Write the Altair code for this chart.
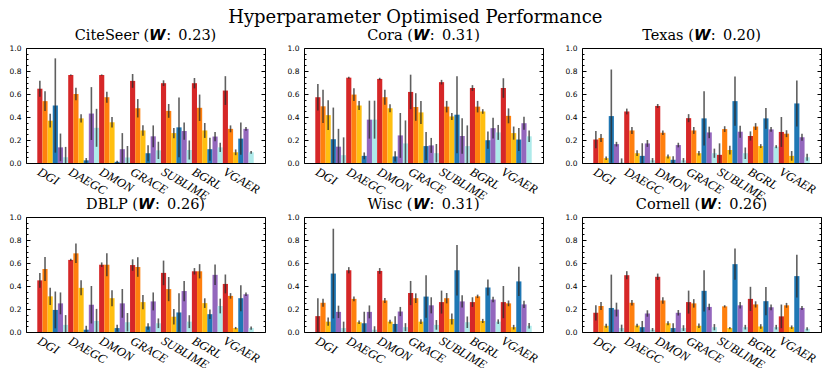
import altair as alt
import pandas as pd

algorithms = ["DGI", "DAEGC", "DMON", "GRACE", "SUBLIME", "BGRL", "VGAER"]
metrics = ["acc", "f1", "nmi", "ari", "modularity", "conductance"]
colors = ["#d62728", "#ff800e", "#ffbf10", "#1f77b4", "#9467bd", "#aeeaea"]

datasets = ["CiteSeer", "Cora", "Texas", "DBLP", "Wisc", "Cornell"]
w_scores = ["0.23", "0.31", "0.20", "0.26", "0.31", "0.26"]

# rows = algorithms, columns = metrics (mean values)
citeseer_mean = [
    [0.646, 0.538, 0.368, 0.500, 0.136, 0.050],
    [0.765, 0.600, 0.388, 0.023, 0.430, 0.306],
    [0.765, 0.572, 0.354, 0.010, 0.120, 0.048],
    [0.714, 0.476, 0.283, 0.085, 0.232, 0.110],
    [0.694, 0.453, 0.260, 0.310, 0.278, 0.113],
    [0.694, 0.480, 0.283, 0.120, 0.230, 0.136],
    [0.630, 0.297, 0.093, 0.212, 0.297, 0.093],
]
citeseer_err = [
    [0.070, 0.085, 0.060, 0.410, 0.120, 0.090],
    [0.005, 0.055, 0.035, 0.020, 0.230, 0.165],
    [0.005, 0.047, 0.045, 0.010, 0.140, 0.100],
    [0.060, 0.080, 0.045, 0.070, 0.095, 0.075],
    [0.025, 0.060, 0.045, 0.260, 0.075, 0.083],
    [0.045, 0.115, 0.065, 0.100, 0.040, 0.040],
    [0.125, 0.030, 0.025, 0.140, 0.017, 0.012],
]
cora_mean = [
    [0.572, 0.493, 0.416, 0.207, 0.142, 0.068],
    [0.742, 0.595, 0.500, 0.062, 0.377, 0.377],
    [0.731, 0.572, 0.476, 0.057, 0.240, 0.170],
    [0.618, 0.487, 0.440, 0.147, 0.153, 0.085],
    [0.703, 0.490, 0.405, 0.420, 0.235, 0.147],
    [0.652, 0.490, 0.448, 0.198, 0.303, 0.266],
    [0.652, 0.410, 0.260, 0.204, 0.346, 0.232],
]
cora_err = [
    [0.115, 0.145, 0.130, 0.275, 0.155, 0.155],
    [0.008, 0.055, 0.040, 0.030, 0.165, 0.165],
    [0.010, 0.065, 0.035, 0.045, 0.195, 0.200],
    [0.150, 0.120, 0.100, 0.123, 0.065, 0.080],
    [0.020, 0.050, 0.030, 0.335, 0.155, 0.180],
    [0.025, 0.050, 0.020, 0.075, 0.090, 0.065],
    [0.085, 0.065, 0.057, 0.100, 0.057, 0.050],
]
texas_mean = [
    [0.204, 0.218, 0.042, 0.408, 0.164, 0.005],
    [0.448, 0.283, 0.085, 0.062, 0.170, 0.023],
    [0.496, 0.263, 0.057, 0.028, 0.156, 0.023],
    [0.390, 0.283, 0.085, 0.388, 0.266, 0.085],
    [0.071, 0.295, 0.113, 0.538, 0.272, 0.085],
    [0.235, 0.317, 0.147, 0.388, 0.292, 0.142],
    [0.270, 0.255, 0.062, 0.518, 0.224, 0.050],
]
texas_err = [
    [0.075, 0.035, 0.015, 0.405, 0.020, 0.035],
    [0.025, 0.030, 0.025, 0.110, 0.030, 0.020],
    [0.017, 0.020, 0.018, 0.030, 0.020, 0.020],
    [0.035, 0.030, 0.020, 0.235, 0.050, 0.040],
    [0.100, 0.025, 0.038, 0.215, 0.052, 0.050],
    [0.040, 0.030, 0.017, 0.090, 0.020, 0.013],
    [0.130, 0.030, 0.042, 0.200, 0.030, 0.030],
]
dblp_mean = [
    [0.449, 0.548, 0.310, 0.192, 0.249, 0.062],
    [0.627, 0.684, 0.384, 0.020, 0.237, 0.096],
    [0.585, 0.585, 0.294, 0.034, 0.249, 0.085],
    [0.582, 0.565, 0.260, 0.048, 0.266, 0.076],
    [0.514, 0.373, 0.133, 0.170, 0.356, 0.090],
    [0.528, 0.528, 0.251, 0.155, 0.497, 0.226],
    [0.418, 0.314, 0.034, 0.294, 0.328, 0.034],
]
dblp_err = [
    [0.065, 0.105, 0.075, 0.160, 0.095, 0.085],
    [0.010, 0.085, 0.065, 0.034, 0.163, 0.105],
    [0.020, 0.100, 0.070, 0.030, 0.125, 0.080],
    [0.050, 0.085, 0.062, 0.028, 0.078, 0.042],
    [0.107, 0.105, 0.068, 0.168, 0.088, 0.056],
    [0.028, 0.062, 0.042, 0.041, 0.089, 0.064],
    [0.082, 0.024, 0.010, 0.113, 0.015, 0.014],
]
wisc_mean = [
    [0.138, 0.254, 0.090, 0.508, 0.175, 0.034],
    [0.537, 0.288, 0.085, 0.076, 0.175, 0.020],
    [0.531, 0.274, 0.090, 0.070, 0.178, 0.042],
    [0.339, 0.294, 0.090, 0.308, 0.232, 0.062],
    [0.260, 0.294, 0.113, 0.537, 0.266, 0.085],
    [0.260, 0.310, 0.096, 0.387, 0.282, 0.090],
    [0.260, 0.249, 0.042, 0.440, 0.240, 0.054],
]
wisc_err = [
    [0.155, 0.035, 0.035, 0.390, 0.054, 0.056],
    [0.027, 0.021, 0.015, 0.100, 0.056, 0.030],
    [0.025, 0.021, 0.017, 0.068, 0.040, 0.035],
    [0.105, 0.042, 0.020, 0.185, 0.070, 0.042],
    [0.100, 0.045, 0.047, 0.220, 0.053, 0.050],
    [0.042, 0.015, 0.018, 0.070, 0.024, 0.020],
    [0.140, 0.025, 0.020, 0.127, 0.032, 0.024],
]
cornell_mean = [
    [0.167, 0.226, 0.054, 0.209, 0.195, 0.034],
    [0.494, 0.254, 0.056, 0.042, 0.161, 0.020],
    [0.480, 0.274, 0.076, 0.034, 0.167, 0.034],
    [0.260, 0.249, 0.054, 0.358, 0.218, 0.042],
    [0.000, 0.223, 0.034, 0.590, 0.232, 0.042],
    [0.288, 0.240, 0.048, 0.268, 0.215, 0.042],
    [0.136, 0.232, 0.042, 0.486, 0.209, 0.028],
]
cornell_err = [
    [0.066, 0.035, 0.017, 0.290, 0.060, 0.030],
    [0.035, 0.024, 0.015, 0.054, 0.028, 0.015],
    [0.028, 0.028, 0.017, 0.042, 0.024, 0.025],
    [0.100, 0.037, 0.020, 0.180, 0.028, 0.027],
    [0.000, 0.010, 0.010, 0.135, 0.028, 0.020],
    [0.105, 0.027, 0.020, 0.123, 0.025, 0.020],
    [0.103, 0.021, 0.015, 0.186, 0.017, 0.014],
]

means = [citeseer_mean, cora_mean, texas_mean, dblp_mean, wisc_mean, cornell_mean]
errors = [citeseer_err, cora_err, texas_err, dblp_err, wisc_err, cornell_err]

tick_values = [i / 20 for i in range(21)]
major_test = "round(datum.value*20) % 4 === 0"


def panel(name, w, mean, err):
    rows = []
    for i, alg in enumerate(algorithms):
        for j, m in enumerate(metrics):
            rows.append({"alg": alg, "metric": m, "mean": mean[i][j], "err": err[i][j]})
    df = pd.DataFrame(rows)

    x = alt.X(
        "alg:N",
        sort=algorithms,
        title=None,
        scale=alt.Scale(paddingInner=0, paddingOuter=0.365),
        axis=alt.Axis(
            labelAngle=30,
            labelAlign="left",
            labelBaseline="top",
            labelOffset=-11,
            labelPadding=2,
            labelFont="Liberation Serif",
            labelFontStyle="italic",
            labelFontSize=12.5,
            labelColor="black",
            ticks=False,
            domain=False,
        ),
    )
    xo = alt.XOffset("metric:N", sort=metrics, scale=alt.Scale(paddingInner=0, paddingOuter=0))
    yscale = alt.Scale(domain=[0, 1], nice=False, zero=True)

    bars = alt.Chart(df).mark_bar().encode(
        x=x,
        xOffset=xo,
        y=alt.Y(
            "mean:Q",
            scale=yscale,
            title=None,
            axis=alt.Axis(
                orient="left",
                values=tick_values,
                labelExpr=major_test + " ? format(datum.value, '.1f') : ''",
                tickSize={"expr": major_test + " ? -4 : -2"},
                labelPadding=9,
                labelFont="DejaVu Sans",
                labelFontSize=7.5,
                labelColor="black",
                tickColor="black",
                domain=False,
                grid=False,
            ),
        ),
        color=alt.Color("metric:N", scale=alt.Scale(domain=metrics, range=colors), legend=None),
    )

    errbars = (
        alt.Chart(df)
        .transform_calculate(lo="max(0, datum.mean - datum.err)", hi="min(1, datum.mean + datum.err)")
        .mark_rule(color="#2a2a2a", opacity=0.75, strokeWidth=1.6)
        .encode(
            x=x,
            xOffset=xo,
            y=alt.Y(
                "lo:Q",
                scale=yscale,
                title=None,
                axis=alt.Axis(
                    orient="right",
                    values=tick_values,
                    labels=False,
                    tickSize={"expr": major_test + " ? -4 : -2"},
                    tickColor="black",
                    domain=False,
                    grid=False,
                ),
            ),
            y2="hi:Q",
        )
    )

    return (
        alt.layer(bars, errbars)
        .resolve_axis(y="independent")
        .properties(
            width=239,
            height=115,
            title=alt.Title(
                f"{name} (\U0001D652:\u2002{w})",
                font="DejaVu Serif",
                fontSize=14.5,
                fontWeight="normal",
                color="black",
                offset=1,
                anchor="middle",
            ),
        )
    )


panels = [panel(n, w, m, e) for n, w, m, e in zip(datasets, w_scores, means, errors)]

chart = (
    alt.concat(*panels, columns=3, spacing={"row": 54, "column": 39}, bounds="flush")
    .properties(
        title=alt.Title(
            "Hyperparameter Optimised Performance",
            font="DejaVu Serif",
            fontSize=18,
            fontWeight="normal",
            color="black",
            anchor="middle",
            offset=0,
        ),
        padding={"left": 0, "top": 1, "right": 0, "bottom": 10},
    )
    .configure_view(stroke="black", strokeWidth=1)
)

chart.save("out.html", embed_options={"renderer": "svg", "actions": False})
